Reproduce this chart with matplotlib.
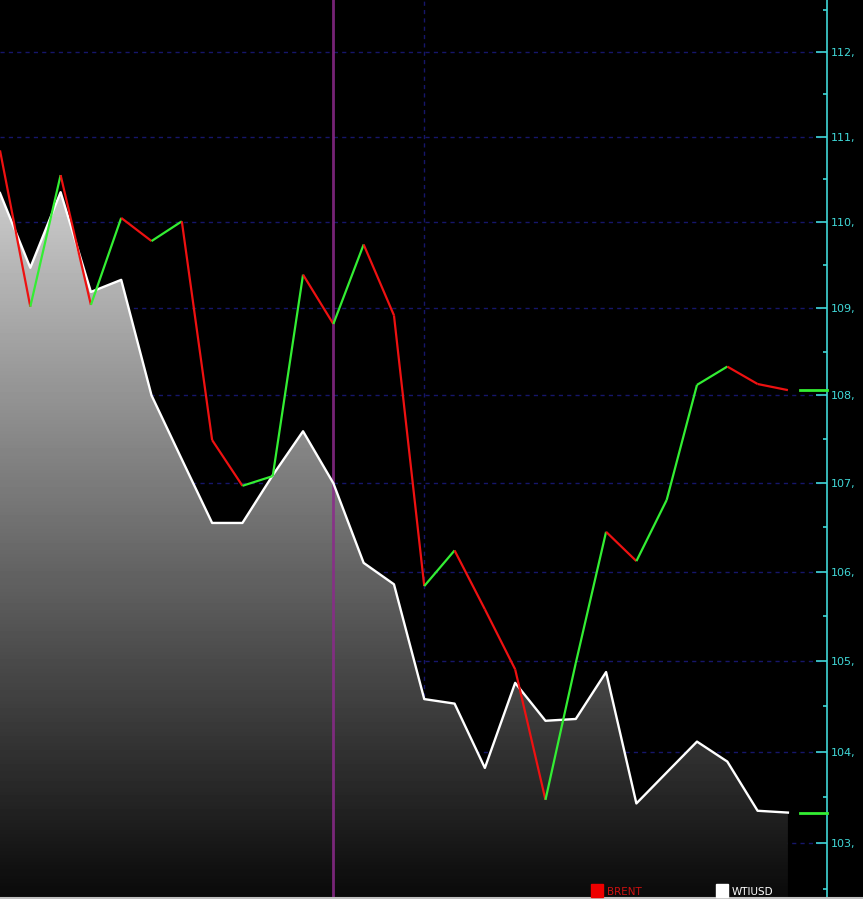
import numpy as np
import matplotlib
matplotlib.use('Agg')
import matplotlib.pyplot as plt
from matplotlib.collections import LineCollection
from matplotlib.patches import Rectangle
from matplotlib.lines import Line2D
from matplotlib.ticker import FixedLocator, FuncFormatter, NullFormatter

# daily closes
brent = [110.84, 109.02, 110.55, 109.04, 110.05, 109.78, 110.01, 107.49, 106.97, 107.08,
         109.39, 108.82, 109.74, 108.92, 105.84, 106.24, 105.58, 104.91, 103.47, 104.98,
         106.45, 106.12, 106.81, 108.12, 108.33, 108.13, 108.06]
wti = [110.34, 109.47, 110.35, 109.19, 109.33, 108.00, 107.27, 106.55, 106.55, 107.09,
       107.59, 107.00, 106.10, 105.86, 104.58, 104.53, 103.82, 104.76, 104.34, 104.36,
       104.88, 103.43, 103.77, 104.11, 103.89, 103.35, 103.33]
y_ticks = [103, 104, 105, 106, 107, 108, 109, 110, 111, 112]
y_minor = [102.5, 103.5, 104.5, 105.5, 106.5, 107.5, 108.5, 109.5, 110.5, 111.5, 112.5]
cursor_idx = 11
session_idx = 14

W, H = 863, 899
fig = plt.figure(figsize=(W / 100, H / 100), dpi=100, facecolor='black')
ax = fig.add_axes([0, 2 / H, 827 / W, 897 / H])
ax.set_facecolor('black')

x = np.arange(len(brent))
ax.set_yscale('log')
ax.set_xlim(0, 27.29)
ax.set_ylim(102.41, 112.62)

# grid
grid_col = '#16166a'
for v in y_ticks:
    ax.axhline(v, color=grid_col, lw=1, ls=(0, (3, 3)), zorder=1)
ax.axvline(session_idx, color=grid_col, lw=1, ls=(0, (3, 3)), zorder=1)

# WTI area with vertical gradient
poly = ax.fill_between(x, wti, 102.41, color='none', lw=0, zorder=2)
grad = np.linspace(1.0, 0.04, 256).reshape(-1, 1)
img = ax.imshow(grad, cmap='gray', vmin=0, vmax=1, aspect='auto',
                extent=[0, 1, 0, 1], transform=ax.transAxes, zorder=2)
img.set_clip_path(poly.get_paths()[0], transform=ax.transData)
ax.plot(x, wti, color='white', lw=1.7, zorder=4)

# cursor line
ax.axvline(cursor_idx, color='#8b2a8b', lw=2, alpha=0.85, zorder=3)

# Brent, coloured by direction
pts = np.column_stack([x, brent])
segs = np.stack([pts[:-1], pts[1:]], axis=1)
cols = ['#33ee33' if b > a else '#ee1111' for a, b in zip(brent[:-1], brent[1:])]
ax.add_collection(LineCollection(segs, colors=cols, linewidths=1.6, zorder=5))

# last value markers
for v in (brent[-1], wti[-1]):
    ax.plot([26.4, 27.29], [v, v], color='#33ee33', lw=2, clip_on=False, zorder=6)

# right axis
cyan = '#40d8d8'
for s in ('left', 'top', 'bottom'):
    ax.spines[s].set_visible(False)
ax.spines['right'].set_color(cyan)
ax.spines['right'].set_linewidth(1.2)
ax.xaxis.set_visible(False)
ax.yaxis.tick_right()
ax.yaxis.set_major_locator(FixedLocator(y_ticks))
ax.yaxis.set_minor_locator(FixedLocator(y_minor))
ax.yaxis.set_major_formatter(FuncFormatter(lambda v, p: f'{v:.0f},'))
ax.yaxis.set_minor_formatter(NullFormatter())
ax.tick_params(axis='y', which='major', direction='in', length=8, width=1.2,
               color=cyan, labelcolor=cyan, labelsize=8, pad=3)
ax.tick_params(axis='y', which='minor', direction='in', length=3, width=1.2, color=cyan)
ax.tick_params(axis='y', which='both', left=False, right=True)

# legend at the bottom
fig.add_artist(Rectangle((591 / W, 2 / H), 12 / W, 13 / H, transform=fig.transFigure,
                         color='#ee0000', zorder=10))
fig.text(607 / W, 4 / H, 'BRENT', color='#cc1010', fontsize=7.5, va='baseline', zorder=10)
fig.add_artist(Rectangle((716 / W, 2 / H), 12 / W, 13 / H, transform=fig.transFigure,
                         color='white', zorder=10))
fig.text(732 / W, 4 / H, 'WTIUSD', color='white', fontsize=7.5, va='baseline', zorder=10)

# bottom border
fig.add_artist(Line2D([0, 1], [1 / H, 1 / H], transform=fig.transFigure,
                      color='#c0c0c0', lw=1.5))

fig.savefig('out.png', dpi=100, facecolor='black')
